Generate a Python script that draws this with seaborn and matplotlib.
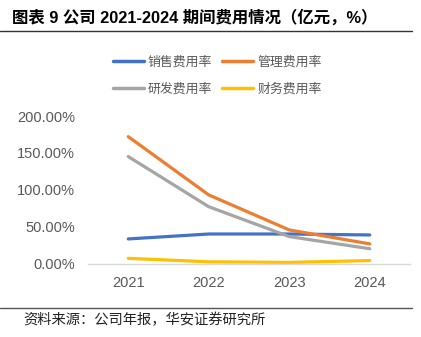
import matplotlib
matplotlib.use("Agg")
import matplotlib.pyplot as plt
from matplotlib.lines import Line2D
import pandas as pd
import seaborn as sns

years = ["2021", "2022", "2023", "2024"]
sales_rate = [33.3, 40.0, 40.0, 38.7]
admin_rate = [172.0, 93.0, 45.5, 26.6]
rd_rate = [145.0, 77.0, 36.5, 20.0]
finance_rate = [7.0, 2.3, 1.5, 4.0]
series_names = ["销售费用率", "管理费用率", "研发费用率", "财务费用率"]
colors = ["#4472C4", "#ED7D31", "#A5A5A5", "#FFC000"]
y_ticks = [0, 50, 100, 150, 200]

sns.set_theme(style="white")
plt.rcParams["font.family"] = ["Liberation Sans", "Noto Sans CJK SC", "DejaVu Sans"]

rows = []
for name, vals in zip(series_names, [sales_rate, admin_rate, rd_rate, finance_rate]):
    for yr, v in zip(years, vals):
        rows.append({"年份": yr, "费用率": v, "项目": name})
df = pd.DataFrame(rows)

fig = plt.figure(figsize=(4.21, 3.37), dpi=100)
ax = fig.add_axes([88 / 421, 1 - 263.5 / 337, 322 / 421, 147.5 / 337])

sns.lineplot(data=df, x="年份", y="费用率", hue="项目",
             palette=dict(zip(series_names, colors)), linewidth=2.3,
             ax=ax, legend=False, sort=False)

ax.set_xlim(-0.5, 3.5)
ax.set_ylim(0, 200)
ax.set_yticks(y_ticks)
ax.set_yticklabels([f"{t:.2f}%" for t in y_ticks])
ax.set_xlabel("")
ax.set_ylabel("")
for s in ["top", "right", "left"]:
    ax.spines[s].set_visible(False)
ax.spines["bottom"].set_color("#D9D9D9")
ax.spines["bottom"].set_linewidth(1.0)
ax.tick_params(axis="both", length=0, labelsize=10.5, colors="#595959")
ax.tick_params(axis="y", pad=9.5)
ax.tick_params(axis="x", pad=9)
ax.grid(False)

# legend, two rows of two entries (filled column by column)
order = [0, 2, 1, 3]
handles = [Line2D([0], [0], color=colors[i], lw=2.5) for i in order]
labels = [series_names[i] for i in order]
leg = fig.legend(handles, labels, loc="upper left", ncol=2,
                 bbox_to_anchor=(101 / 421, 1 - 44 / 337), frameon=False,
                 prop={"family": ["Noto Sans CJK SC"], "size": 9.3},
                 handlelength=2.4, handletextpad=0.3, columnspacing=0.8,
                 labelspacing=1.1)
for t in leg.get_texts():
    t.set_color("#595959")

# title and frame lines
fig.text(12 / 421, 1 - 17 / 337, "图表 9 公司 2021-2024 期间费用情况（亿元，%）",
         ha="left", va="center", fontsize=11.8, fontweight="bold", color="#000000",
         family=["Liberation Sans", "Noto Sans CJK SC"])
fig.add_artist(Line2D([0, 412 / 421], [1 - 31 / 337, 1 - 31 / 337],
                      color="#333333", lw=1.0))
fig.add_artist(Line2D([0, 412 / 421], [1 - 308 / 337, 1 - 308 / 337],
                      color="#555555", lw=1.0))
fig.text(23 / 421, 1 - 320 / 337, "资料来源：公司年报，华安证券研究所",
         ha="left", va="center", fontsize=10.3, color="#222222",
         family=["Noto Sans CJK SC"])

fig.savefig("out.png", dpi=100)
